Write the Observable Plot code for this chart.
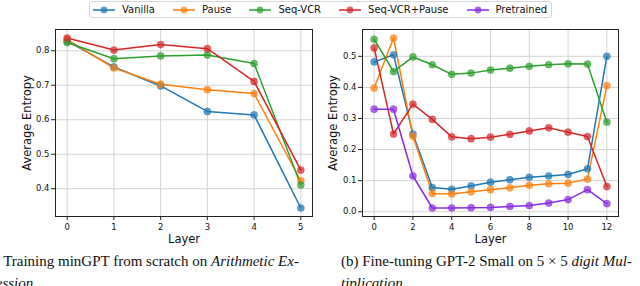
<!DOCTYPE html>
<html>
<head>
<meta charset="utf-8">
<script src="https://cdn.jsdelivr.net/npm/d3@7"></script>
<script src="https://cdn.jsdelivr.net/npm/@observablehq/plot@0.6"></script>
<style>
  html, body { margin: 0; padding: 0; background: #fff; }
  #root { position: relative; width: 640px; height: 286px; overflow: hidden; background: #fff; }
  .panel { position: absolute; top: 0; }
  #legend { position: absolute; left: 89px; top: 1px; height: 17px; border: 1px solid #d6d6d6; border-radius: 3px;
            display: flex; align-items: center; padding: 0 4px 0 3px; font: 10px "DejaVu Sans", sans-serif; color: #111; background: #fff; box-sizing: border-box; }
  .item { display: flex; align-items: center; margin-right: 18px; }
  .item:last-child { margin-right: 0; }
  .item svg { margin-right: 7px; }
  .cap { position: absolute; font: 15px "Liberation Serif", "Times New Roman", serif; line-height: 21px; color: #111; white-space: nowrap; }
</style>
</head>
<body>
<div id="root"></div>
<script>
// ---- data ----
const series = ["Vanilla", "Pause", "Seq-VCR", "Seq-VCR+Pause", "Pretrained"];
const colors = ["#1f77b4", "#ff7f0e", "#2ca02c", "#d62728", "#8a2be2"];

// (a) minGPT from scratch
const layersA = [0, 1, 2, 3, 4, 5];
const vanillaA   = [0.828, 0.753, 0.698, 0.624, 0.614, 0.344];
const pauseA     = [0.832, 0.750, 0.703, 0.687, 0.676, 0.423];
const seqA       = [0.824, 0.777, 0.785, 0.788, 0.763, 0.411];
const seqPauseA  = [0.837, 0.802, 0.818, 0.806, 0.711, 0.454];
const xTicksA = [0, 1, 2, 3, 4, 5];
const yTicksA = [0.4, 0.5, 0.6, 0.7, 0.8];

// (b) GPT-2 Small fine-tuning
const layersB = [0, 1, 2, 3, 4, 5, 6, 7, 8, 9, 10, 11, 12];
const vanillaB    = [0.482, 0.505, 0.250, 0.078, 0.072, 0.083, 0.095, 0.103, 0.111, 0.115, 0.120, 0.138, 0.500];
const pauseB      = [0.398, 0.559, 0.243, 0.059, 0.057, 0.064, 0.071, 0.077, 0.085, 0.090, 0.092, 0.105, 0.406];
const seqB        = [0.555, 0.451, 0.498, 0.473, 0.442, 0.446, 0.456, 0.462, 0.468, 0.473, 0.476, 0.475, 0.288];
const seqPauseB   = [0.527, 0.250, 0.346, 0.297, 0.241, 0.235, 0.240, 0.249, 0.260, 0.270, 0.256, 0.242, 0.081];
const pretrainedB = [0.330, 0.330, 0.115, 0.012, 0.012, 0.013, 0.014, 0.017, 0.020, 0.028, 0.039, 0.071, 0.026];
const xTicksB = [0, 2, 4, 6, 8, 10, 12];
const yTicksB = [0.0, 0.1, 0.2, 0.3, 0.4, 0.5];

const xLabel = "Layer";
const yLabel = "Average Entropy";
const captionA1 = '(a) Training minGPT from scratch on <i>Arithmetic Ex-</i>';
const captionA2 = '<i>pression</i>';
const captionB1 = '(b) Fine-tuning GPT-2 Small on 5 \u00d7 5 <i>digit Mul-</i>';
const captionB2 = '<i>tiplication</i>';

// ---- build tables ----
function table(layers, arrays) {
  const rows = [];
  arrays.forEach(([name, vals]) => vals.forEach((v, i) => rows.push({series: name, layer: layers[i], value: v})));
  return rows;
}
const dataA = table(layersA, [["Vanilla", vanillaA], ["Pause", pauseA], ["Seq-VCR", seqA], ["Seq-VCR+Pause", seqPauseA]]);
const dataB = table(layersB, [["Vanilla", vanillaB], ["Pause", pauseB], ["Seq-VCR", seqB], ["Seq-VCR+Pause", seqPauseB], ["Pretrained", pretrainedB]]);

function pad(vals, frac) {
  const lo = d3.min(vals), hi = d3.max(vals), p = (hi - lo) * frac;
  return [lo - p, hi + p];
}

function panel(data, opts) {
  const {xTicks, yTicks, yFmt, margins, width, height} = opts;
  return Plot.plot({
    width, height,
    marginLeft: margins[0], marginRight: margins[1], marginTop: margins[2], marginBottom: margins[3],
    style: {fontFamily: "DejaVu Sans, sans-serif", fontSize: "8.5px", background: "transparent", color: "#111", overflow: "visible"},
    x: {domain: pad(data.map(d => d.layer), 0.05)},
    y: {domain: pad(data.map(d => d.value), 0.05)},
    color: {domain: series, range: colors},
    marks: [
      Plot.gridX(xTicks, {stroke: "#d4d4d4", strokeOpacity: 1, strokeWidth: 1}),
      Plot.gridY(yTicks, {stroke: "#d4d4d4", strokeOpacity: 1, strokeWidth: 1}),
      Plot.line(data, {x: "layer", y: "value", z: "series", stroke: "series", strokeWidth: 1.5}),
      Plot.dot(data, {x: "layer", y: "value", fill: "series", r: 3.6, fillOpacity: 0.72, stroke: "series", strokeOpacity: 0.5, strokeWidth: 0.6}),
      Plot.frame({stroke: "#222", strokeWidth: 1}),
      Plot.axisX(xTicks, {tickSize: 4, tickPadding: 3, label: null, fontSize: 8.5, stroke: "#222"}),
      Plot.axisY(yTicks, {tickSize: 4, tickPadding: 2, label: null, tickFormat: d3.format(yFmt), fontSize: 8.5, stroke: "#222"}),
      Plot.text([xLabel], {text: d => d, frameAnchor: "bottom", dy: 23, lineAnchor: "middle", textAnchor: "middle", fontSize: 11.5, fill: "#111"}),
      Plot.text([yLabel], {text: d => d, frameAnchor: "left", rotate: -90, dx: opts.yLabelDx, lineAnchor: "middle", textAnchor: "middle", fontSize: 11.5, fill: "#111"})
    ]
  });
}

const root = document.getElementById("root");

const pA = panel(dataA, {width: 320, height: 250, margins: [55, 8, 29, 34], xTicks: xTicksA, yTicks: yTicksA, yFmt: ".1f", yLabelDx: -28});
pA.classList.add("panel"); pA.style.left = "0px";
root.appendChild(pA);

const pB = panel(dataB, {width: 320, height: 250, margins: [42, 22, 29, 34], xTicks: xTicksB, yTicks: yTicksB, yFmt: ".1f", yLabelDx: -29});
pB.classList.add("panel"); pB.style.left = "320px";
root.appendChild(pB);

// legend
const legend = document.createElement("div");
legend.id = "legend";
series.forEach((s, i) => {
  const it = document.createElement("div");
  it.className = "item";
  it.innerHTML = `<svg width="22" height="10"><line x1="0" y1="5" x2="22" y2="5" stroke="${colors[i]}" stroke-width="1.5"/><circle cx="11" cy="5" r="3.4" fill="${colors[i]}" fill-opacity="0.72"/></svg><span>${s}</span>`;
  legend.appendChild(it);
});
root.appendChild(legend);

// captions
function cap(html, left, top) {
  const d = document.createElement("div");
  d.className = "cap"; d.innerHTML = html; d.style.left = left + "px"; d.style.top = top + "px";
  root.appendChild(d);
}
cap(captionA1, -17, 251);
cap(captionA2, -17, 273);
cap(captionB1, 341, 251);
cap(captionB2, 341, 273);
</script>
</body>
</html>
